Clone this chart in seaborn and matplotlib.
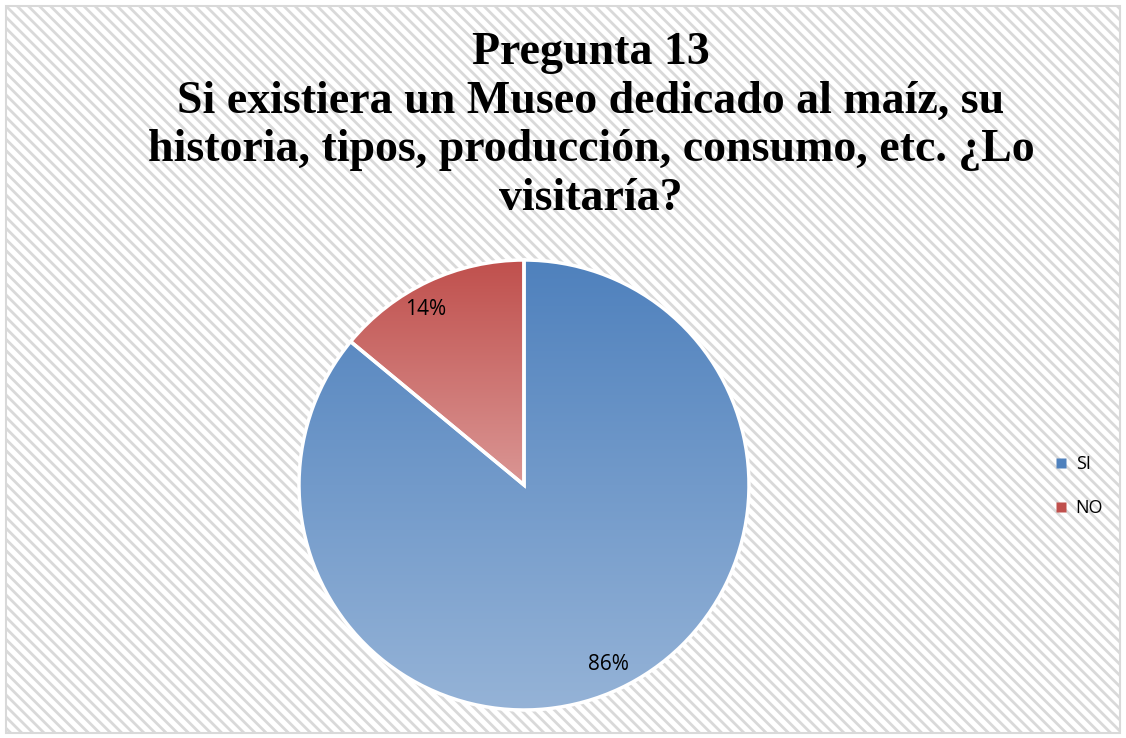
import numpy as np
import seaborn as sns
import matplotlib.pyplot as plt
from matplotlib.patches import Rectangle
from matplotlib.lines import Line2D

# data
categories = ["SI", "NO"]
values = [86, 14]
labels_pct = ["86%", "14%"]

title = ("Pregunta 13\nSi existiera un Museo dedicado al maíz, su\n"
         "historia, tipos, producción, consumo, etc. ¿Lo\nvisitaría?")

sns.set_theme(style="white")
plt.rcParams["hatch.linewidth"] = 2.0
plt.rcParams["hatch.color"] = "#E3E3E3"

# gradient colours (top -> bottom)
grad = {"SI": ("#4F81BD", "#95B3D7"), "NO": ("#C0504D", "#DA9694")}
solid = {"SI": "#4F81BD", "NO": "#C0504D"}

fig = plt.figure(figsize=(11.26, 7.38), dpi=100)

# hatched chart background with border
fig.patches.append(Rectangle((6 / 1126, 5 / 738), 1114 / 1126, 727 / 738,
                             transform=fig.transFigure, facecolor="white",
                             edgecolor="#D9D9D9", linewidth=1.5, hatch="\\\\\\",
                             zorder=-2))

cx, cy, r = 524, 485, 225
ax = fig.add_axes([(cx - r) / 1126, (738 - cy - r) / 738, 2 * r / 1126, 2 * r / 738])
ax.set_facecolor("none")

wedges, texts = ax.pie(values, startangle=90, counterclock=False, radius=1,
                       colors=[solid[c] for c in categories],
                       wedgeprops=dict(edgecolor="white", linewidth=2.5))
ax.set_aspect("equal")
ax.axis("off")

for w, cat in zip(wedges, categories):
    ext = w.get_path().get_extents()
    x0, y0, x1, y1 = ext.x0, ext.y0, ext.x1, ext.y1
    top, bot = sns.color_palette([grad[cat][0], grad[cat][1]])
    n = 256
    t = np.linspace(0, 1, n)[:, None]
    img = np.zeros((n, 2, 3))
    for k in range(3):
        img[:, :, k] = top[k] + (bot[k] - top[k]) * t
    im = ax.imshow(img, extent=(x0, x1, y0, y1), origin="upper", aspect="auto",
                   zorder=w.get_zorder() - 0.1, interpolation="bilinear")
    im.set_clip_path(w)
    w.set_facecolor("none")
ax.set_xlim(-1, 1)
ax.set_ylim(-1, 1)

# percentage labels
ax.text(0.374, -0.800, labels_pct[0], ha="center", va="center", fontsize=15,
        family="Open Sans", color="black")
ax.text(-0.436, 0.778, labels_pct[1], ha="center", va="center", fontsize=15,
        family="Open Sans", color="black")

fig.text(591 / 1126, 1 - 126 / 738, title, ha="center", va="center", fontsize=33,
         fontweight="bold", family="Liberation Serif", linespacing=1.2, color="black")

handles = [Line2D([], [], marker="s", linestyle="none", markersize=7,
                  markerfacecolor=grad[c][0], markeredgecolor="none") for c in categories]
fig.legend(handles, categories, loc="center left", bbox_to_anchor=(1036 / 1126, 1 - 486 / 738),
           frameon=False, prop={"family": "Open Sans", "size": 13}, labelspacing=1.45,
           handletextpad=0.3, handlelength=1.0, labelcolor="black")

fig.savefig("out.png", dpi=100)
